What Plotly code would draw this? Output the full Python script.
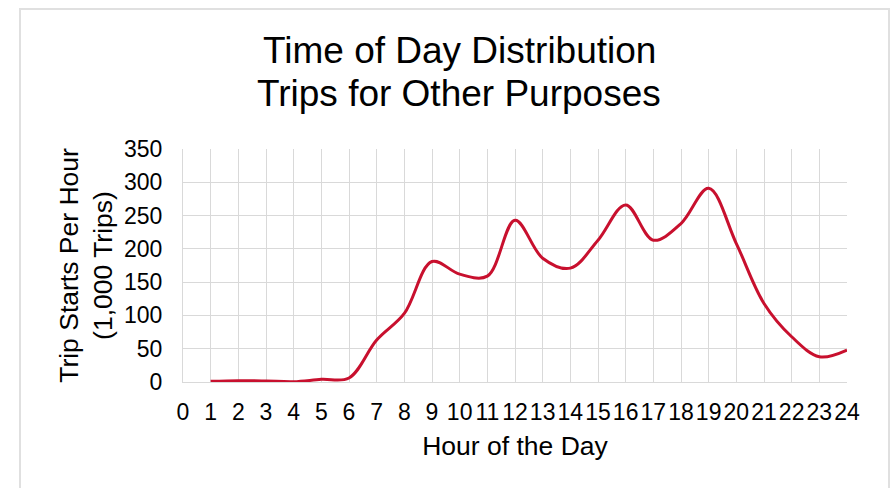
import plotly.graph_objects as go

hours = list(range(1, 25))
trips = [1, 2, 1.5, 0.5, 4, 6, 63, 103, 181, 162, 159, 243, 186, 171, 213, 266, 213, 238, 291, 208, 118, 68, 38, 48]
x_ticks = list(range(0, 25))
y_ticks = list(range(0, 351, 50))
title_lines = ["Time of Day Distribution", "Trips for Other Purposes"]

FONT = "Liberation Sans, Arial, sans-serif"
GRID = "#D9D9D9"
PL, PR, PT, PB = 183, 847, 149, 382  # plot area in page pixels


def px_x(p):
    return (p - PL) / (PR - PL)


def px_y(p):
    return (PB - p) / (PB - PT)


fig = go.Figure()
fig.add_trace(go.Scatter(
    x=hours, y=trips, mode="lines",
    line=dict(color="#C8102E", width=3, shape="spline", smoothing=1),
    showlegend=False, hoverinfo="x+y",
))

annotations = []
for text, yc in zip(title_lines, [51, 94]):
    annotations.append(dict(
        text=text, xref="paper", yref="paper", x=px_x(459), y=px_y(yc),
        xanchor="center", yanchor="middle", showarrow=False,
        font=dict(family=FONT, size=37, color="#000000"),
    ))

fig.update_layout(
    width=891, height=488,
    margin=dict(l=PL, r=891 - PR, t=PT, b=488 - PB, autoexpand=False),
    paper_bgcolor="white", plot_bgcolor="white",
    font=dict(family=FONT, color="#000000"),
    annotations=annotations,
    xaxis=dict(
        range=[0, 24], tickmode="array", tickvals=x_ticks,
        ticktext=[str(v) for v in x_ticks], tickangle=0,
        showgrid=True, gridcolor=GRID, gridwidth=1.3,
        showline=True, linecolor=GRID, linewidth=1.3,
        zeroline=False, ticks="", ticklabelstandoff=9, automargin=False,
        tickfont=dict(family=FONT, size=23, color="#000000"),
        title=dict(text="Hour of the Day", font=dict(family=FONT, size=26.5, color="#000000"), standoff=12),
    ),
    yaxis=dict(
        range=[0, 350], tickmode="array", tickvals=y_ticks,
        showgrid=True, gridcolor=GRID, gridwidth=1.3,
        showline=True, linecolor=GRID, linewidth=1.3,
        zeroline=False, ticks="", ticklabelstandoff=15, automargin=False,
        tickfont=dict(family=FONT, size=23, color="#000000"),
        title=dict(text="Trip Starts Per Hour<br>(1,000 Trips)", font=dict(family=FONT, size=26.5, color="#000000"), standoff=3),
    ),
    shapes=[dict(
        type="rect", xref="paper", yref="paper",
        x0=px_x(20), x1=px_x(889), y0=px_y(500), y1=px_y(9),
        line=dict(color="#E0E0E0", width=2), fillcolor="rgba(0,0,0,0)", layer="below",
    )],
)

fig.write_html("out.html", config={"displayModeBar": False},
               post_script="document.body.style.margin='0';")
